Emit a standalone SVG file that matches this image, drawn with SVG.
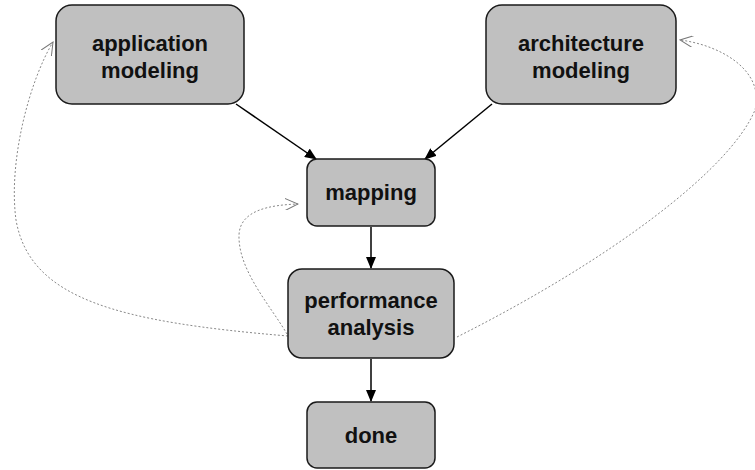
<svg xmlns="http://www.w3.org/2000/svg" width="755" height="470" viewBox="0 0 755 470">
  <style>
    .box { fill: #c0c0c0; stroke: #1a1a1a; stroke-width: 1.5; }
    .lbl { font-family: "Liberation Sans", Arial, Helvetica, sans-serif; font-weight: bold; font-size: 22px; fill: #111; text-anchor: middle; }
    .flow { fill: none; stroke: #000; stroke-width: 1.5; }
    .back { fill: none; stroke: #888; stroke-width: 1; stroke-dasharray: 2 2; }
  </style>
  <defs>
    <marker id="solid" viewBox="0 0 12 10" refX="11" refY="5" markerWidth="12" markerHeight="10" markerUnits="userSpaceOnUse" orient="auto">
      <path d="M0,0 L12,5 L0,10 Z" fill="#000"/>
    </marker>
    <marker id="open" viewBox="0 0 14 12" refX="13" refY="6" markerWidth="14" markerHeight="12" markerUnits="userSpaceOnUse" orient="auto">
      <path d="M0,0 L13,6 L0,12" fill="none" stroke="#777" stroke-width="1"/>
    </marker>
  </defs>

  <!-- connectors -->
  <g id="connectors">
    <line class="flow" x1="236" y1="104" x2="316" y2="159" marker-end="url(#solid)"/>
    <line class="flow" x1="492" y1="104" x2="425" y2="159" marker-end="url(#solid)"/>
    <line class="flow" x1="371" y1="227" x2="371" y2="268" marker-end="url(#solid)"/>
    <line class="flow" x1="371" y1="359" x2="371" y2="401" marker-end="url(#solid)"/>
    <!-- feedback loops -->
    <path class="back" d="M288,336 C120,322 30,300 16,220 C8,160 30,80 53,42" marker-end="url(#open)"/>
    <path class="back" d="M287,334 C270,305 238,270 239,235 C240,210 270,205 298,204" marker-end="url(#open)"/>
    <path class="back" d="M457,337 C610,260 730,170 755,110 C765,70 720,45 680,40" marker-end="url(#open)"/>
  </g>

  <g id="application-modeling">
    <rect class="box" x="56" y="5" width="188" height="99" rx="16"/>
    <text class="lbl" x="150" y="51">application</text>
    <text class="lbl" x="150" y="78">modeling</text>
  </g>
  <g id="architecture-modeling">
    <rect class="box" x="486" y="5" width="190" height="99" rx="16"/>
    <text class="lbl" x="581" y="51">architecture</text>
    <text class="lbl" x="581" y="78">modeling</text>
  </g>
  <g id="mapping">
    <rect class="box" x="307" y="159" width="128" height="67" rx="10"/>
    <text class="lbl" x="371" y="200">mapping</text>
  </g>
  <g id="performance-analysis">
    <rect class="box" x="288" y="269" width="166" height="89" rx="14"/>
    <text class="lbl" x="371" y="308">performance</text>
    <text class="lbl" x="371" y="335">analysis</text>
  </g>
  <g id="done">
    <rect class="box" x="307" y="402" width="128" height="66" rx="10"/>
    <text class="lbl" x="371" y="443">done</text>
  </g>
</svg>
